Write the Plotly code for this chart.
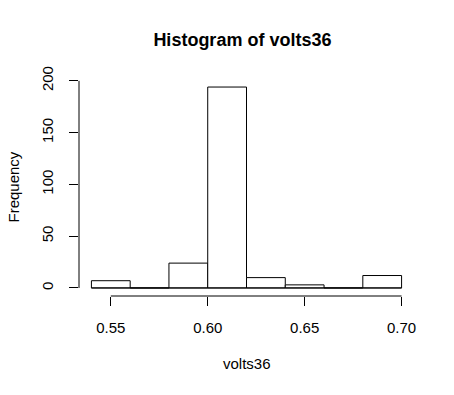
import plotly.graph_objects as go

# Histogram data: bin edges and counts
bin_start = 0.54
bin_width = 0.02
counts = [7, 0, 24, 194, 10, 3, 0, 12]
x_ticks = [0.55, 0.60, 0.65, 0.70]
x_tick_labels = ["0.55", "0.60", "0.65", "0.70"]
y_ticks = [0, 50, 100, 150, 200]
y_tick_labels = ["0", "50", "100", "150", "200"]

centers = [bin_start + bin_width * (i + 0.5) for i in range(len(counts))]
edges = [bin_start + bin_width * i for i in range(len(counts) + 1)]

FONT = "Liberation Sans, Arial, sans-serif"

fig = go.Figure()
fig.add_trace(go.Bar(
    x=centers, y=counts, width=[bin_width] * len(counts),
    marker=dict(color="white", line=dict(color="black", width=1)),
    hoverinfo="x+y", showlegend=False,
))
# baseline under all bins (R draws empty bins as flat outlines)
fig.add_trace(go.Scatter(
    x=[edges[0], edges[-1]], y=[0, 0], mode="lines",
    line=dict(color="black", width=1), hoverinfo="skip", showlegend=False,
))

xmin, xmax = edges[0], edges[-1]
xpad = (xmax - xmin) * 0.04
ymax = max(counts)
ypad = ymax * 0.04

fig.update_layout(
    width=454, height=395,
    margin=dict(l=79, r=40, t=79, b=99, autoexpand=False),
    paper_bgcolor="white", plot_bgcolor="white",
    font=dict(family=FONT, size=15, color="black"),
    title=dict(text="<b>Histogram of volts36</b>", x=242.4 / 454,
               xanchor="center", y=1 - 40 / 395, yanchor="middle",
               font=dict(size=18, family=FONT, color="black")),
    xaxis=dict(range=[xmin - xpad, xmax + xpad], tickvals=x_ticks, ticktext=x_tick_labels,
               ticks="outside", ticklen=9, tickwidth=1, tickcolor="black",
               ticklabelstandoff=9,
               showgrid=False, zeroline=False, showline=False, automargin=False,
               tickfont=dict(size=15, family=FONT, color="black")),
    yaxis=dict(range=[-ypad, ymax + ypad], tickvals=y_ticks, ticktext=y_tick_labels,
               ticks="outside", ticklen=9, tickwidth=1, tickcolor="black",
               tickangle=-90, automargin=False, ticklabelstandoff=10,
               showgrid=False, zeroline=False, showline=False,
               tickfont=dict(size=15, family=FONT, color="black")),
    shapes=[
        dict(type="line", xref="x", yref="paper", x0=x_ticks[0], x1=x_ticks[-1], y0=0, y1=0,
             line=dict(color="black", width=1)),
        dict(type="line", xref="paper", yref="y", x0=0, x1=0, y0=y_ticks[0], y1=y_ticks[-1],
             line=dict(color="black", width=1)),
    ],
    annotations=[
        dict(text="volts36", xref="paper", yref="paper", x=0.5, y=0, yshift=-67,
             xanchor="center", yanchor="middle", showarrow=False,
             font=dict(size=15, family=FONT, color="black")),
        dict(text="Frequency", xref="paper", yref="paper", x=0, y=0.5, xshift=-66,
             xanchor="center", yanchor="middle", textangle=-90, showarrow=False,
             font=dict(size=15, family=FONT, color="black")),
    ],
)

fig.write_html("out.html", config={"displayModeBar": False},
               post_script="document.body.style.margin='0';")
